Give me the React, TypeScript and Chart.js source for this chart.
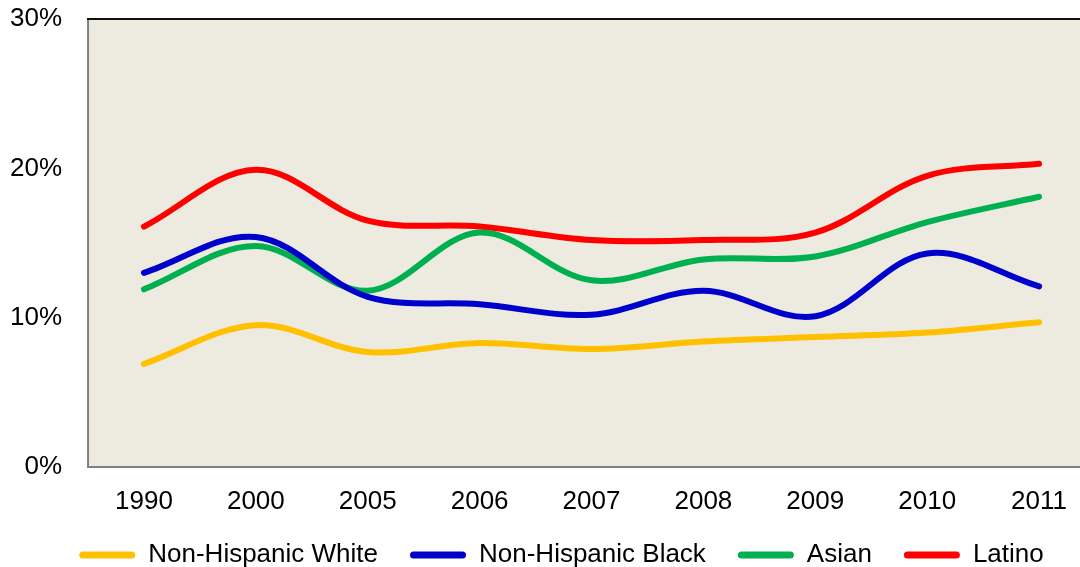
import React, { useEffect, useRef } from "react";
import { Chart, registerables } from "chart.js";

Chart.register(...registerables);

const years = ["1990", "2000", "2005", "2006", "2007", "2008", "2009", "2010", "2011"];
const white = [6.9, 9.5, 7.7, 8.3, 7.9, 8.4, 8.7, 9.0, 9.7];
const black = [13.0, 15.4, 11.4, 10.9, 10.2, 11.8, 10.1, 14.3, 12.1];
const asian = [11.9, 14.8, 11.8, 15.7, 12.5, 13.9, 14.1, 16.4, 18.1];
const latino = [16.1, 19.9, 16.5, 16.1, 15.2, 15.2, 15.7, 19.5, 20.3];
const yTicks = [0, 10, 20, 30];

const FONT = "'Liberation Sans', Arial, sans-serif";

const plotDecor = {
  id: "plotDecor",
  afterLayout(chart: any) {
    const lg = chart.legend;
    if (lg) {
      lg.top -= 9;
      lg.bottom -= 9;
      lg.left += 22;
      lg.right += 22;
    }
  },
  beforeDatasetsDraw(chart: any) {
    const { ctx, chartArea } = chart;
    ctx.save();
    ctx.fillStyle = "#EDEAE0";
    ctx.fillRect(chartArea.left, chartArea.top, chartArea.right - chartArea.left, chartArea.bottom - chartArea.top);
    ctx.restore();
  },
  afterDraw(chart: any) {
    const { ctx, chartArea } = chart;
    ctx.save();
    ctx.strokeStyle = "#808080";
    ctx.lineWidth = 2;
    ctx.beginPath();
    ctx.moveTo(chartArea.left, chartArea.top);
    ctx.lineTo(chartArea.left, chartArea.bottom);
    ctx.lineTo(chartArea.right, chartArea.bottom);
    ctx.stroke();
    ctx.strokeStyle = "#111111";
    ctx.beginPath();
    ctx.moveTo(chartArea.left - 1, chartArea.top);
    ctx.lineTo(chartArea.right, chartArea.top);
    ctx.stroke();
    ctx.restore();
  },
};

export default function App() {
  const ref = useRef<HTMLCanvasElement>(null);
  useEffect(() => {
    if (!ref.current) return;
    const mk = (label: string, data: number[], color: string) => ({
      label,
      data,
      borderColor: color,
      backgroundColor: color,
      borderWidth: 6,
      pointRadius: 0,
      tension: 0.35,
      borderCapStyle: "round" as const,
      borderJoinStyle: "round" as const,
      fill: false,
    });
    const chart = new Chart(ref.current, {
      type: "line",
      data: {
        labels: years,
        datasets: [
          mk("Non-Hispanic White", white, "#FFC000"),
          mk("Non-Hispanic Black", black, "#0000CC"),
          mk("Asian", asian, "#00B050"),
          mk("Latino", latino, "#FF0000"),
        ],
      },
      options: {
        responsive: false,
        animation: false,
        layout: { padding: { left: -16, right: 27, top: 19, bottom: 0 } },
        plugins: {
          tooltip: { enabled: false },
          legend: {
            position: "bottom",
            maxHeight: 60,
            labels: {
              font: { family: FONT, size: 26 },
              color: "#000",
              boxWidth: 56,
              boxHeight: 7,
              padding: 32,
              useBorderRadius: true,
              borderRadius: 3.5,
              generateLabels: (c: any) =>
                Chart.defaults.plugins.legend.labels
                  .generateLabels(c)
                  .map((l: any) => ({ ...l, lineWidth: 0 })),
            },
          },
        },
        scales: {
          x: {
            offset: true,
            grid: { display: false, drawTicks: false },
            border: { display: false },
            ticks: { font: { family: FONT, size: 26 }, color: "#000", padding: 19, maxRotation: 0 },
            afterFit: (scale: any) => {
              scale.height = 52;
            },
          },
          y: {
            min: 0,
            max: 30,
            afterBuildTicks: (scale: any) => {
              scale.ticks = yTicks.map((v) => ({ value: v }));
            },
            afterFit: (scale: any) => {
              scale.paddingTop = 0;
              scale.paddingBottom = 0;
            },
            grid: { display: false, drawTicks: false },
            border: { display: false },
            ticks: {
              font: { family: FONT, size: 26 },
              color: "#000",
              padding: 26,
              callback: (v: any) => v + "%",
            },
          },
        },
      },
      plugins: [plotDecor],
    });
    return () => chart.destroy();
  }, []);
  return (
    <div style={{ position: "fixed", left: 0, top: 0, width: 1080, height: 567, overflow: "hidden", background: "#fff" }}>
      <canvas ref={ref} width={1122} height={579} style={{ width: 1122, height: 579, display: "block" }} />
    </div>
  );
}
